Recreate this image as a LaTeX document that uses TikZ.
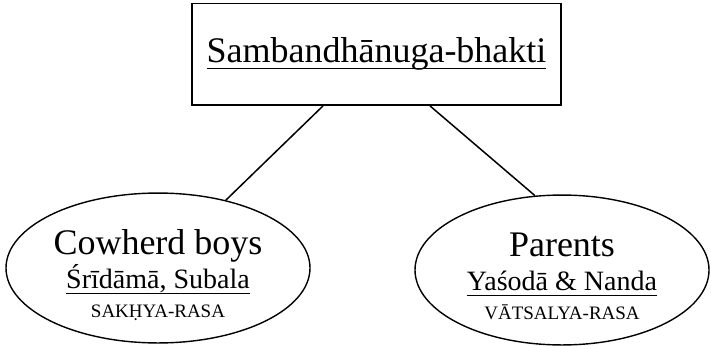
\documentclass[tikz,border=0pt]{standalone}
\usepackage{fontspec}
\setmainfont{Liberation Serif}
\usetikzlibrary{shapes.geometric}
\tikzstyle{titlebox}=[rectangle,draw=black,line width=1.8pt,
                      inner sep=0pt,minimum width=369pt,minimum height=101.5pt,
                      font=\fontsize{36}{36}\selectfont]
\tikzstyle{groupoval}=[ellipse,draw=black,line width=1.4pt,inner sep=0pt,
                       minimum height=148pt,align=center,
                       font={\fontsize{36}{29}\selectfont\lineskiplimit=-100pt}]
\tikzstyle{link}=[draw=black,line width=1.5pt]
\newcommand{\ulined}[2]{\setbox0=\hbox{#2}\rlap{\copy0}\rule[-#1]{\wd0}{1.3pt}}

\begin{document}
\begin{tikzpicture}[x=1pt,y=-1pt]
    \newcommand{\topline}{\rule{0pt}{39pt}}
    \newcommand{\midsz}{\fontsize{28}{29}\selectfont}
    \newcommand{\rasasz}{\fontsize{19}{29}\selectfont\rule[-4pt]{0pt}{4pt}}
    \useasboundingbox (0,0) rectangle (711,345);
    \node (bhakti) at (376.5,54.25) [titlebox]{\ulined{6.6pt}{Sambandhānuga-bhakti}};
    \node (cow) at (158,268) [groupoval,minimum width=304pt]
        {\topline Cowherd boys\\[5pt]
         {\midsz\ulined{6.1pt}{Śrīdāmā, Subala}}\\
         {\rasasz SAKḤYA-RASA}};
    \node (par) at (562,270) [groupoval,minimum width=294pt]
        {\topline Parents\\[5pt]
         {\midsz\ulined{6.1pt}{Yaśodā \& Nanda}}\\
         {\rasasz VĀTSALYA-RASA}};
    \draw[link] (bhakti.-136) -- (cow.45);
    \draw[link] (bhakti.-44) -- (par.110);
\end{tikzpicture}
\end{document}
